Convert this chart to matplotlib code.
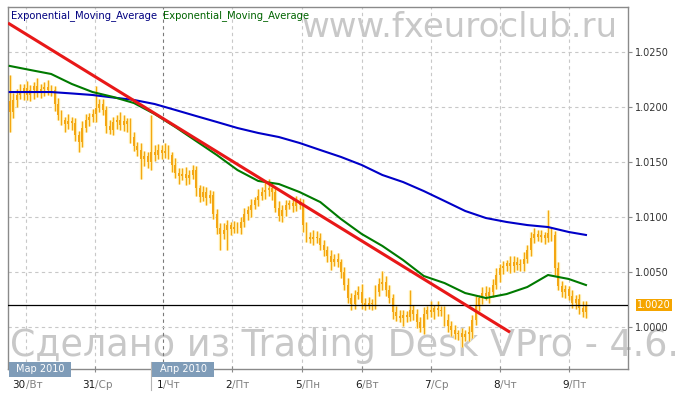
import matplotlib
matplotlib.use("Agg")
import matplotlib.pyplot as plt
import matplotlib.transforms as mtransforms
from matplotlib.patches import Rectangle
import numpy as np

# hourly closes (the first bar opens at first_open, every other bar opens at previous close)
first_open = 1.0205
closes = [
    1.0195, 1.0206, 1.0211, 1.0213, 1.0217, 1.0211, 1.0215, 1.0219, 1.0213, 1.0216,
    1.0218, 1.0215, 1.0215, 1.0202, 1.0192, 1.0188, 1.0184, 1.0187, 1.0185, 1.0174,
    1.0168, 1.0181, 1.0188, 1.0191, 1.0193, 1.0199, 1.0202, 1.0197, 1.0182, 1.0179,
    1.0186, 1.0188, 1.0183, 1.0187, 1.0184, 1.0172, 1.0164, 1.0161, 1.0152, 1.0155,
    1.0150, 1.0159, 1.0156, 1.0161, 1.0158, 1.0160, 1.0156, 1.0147, 1.0140, 1.0137,
    1.0139, 1.0135, 1.0138, 1.0142, 1.0126, 1.0118, 1.0122, 1.0117, 1.0120, 1.0102,
    1.0090, 1.0084, 1.0088, 1.0092, 1.0089, 1.0091, 1.0090, 1.0095, 1.0102, 1.0106,
    1.0111, 1.0115, 1.0119, 1.0122, 1.0124, 1.0126, 1.0122, 1.0108, 1.0101, 1.0106,
    1.0111, 1.0112, 1.0110, 1.0113, 1.0111, 1.0092, 1.0082, 1.0080, 1.0082, 1.0081,
    1.0074, 1.0070, 1.0064, 1.0059, 1.0062, 1.0059, 1.0050, 1.0038, 1.0026, 1.0021,
    1.0029, 1.0032, 1.0022, 1.0020, 1.0022, 1.0021, 1.0032, 1.0039, 1.0041, 1.0033,
    1.0026, 1.0013, 1.0010, 1.0008, 1.0011, 1.0009, 1.0015, 1.0012, 1.0004, 0.9999,
    1.0012, 1.0015, 1.0013, 1.0017, 1.0015, 1.0014, 1.0006, 1.0001, 0.9997, 0.9993,
    0.9994, 0.9991, 0.9993, 0.9995, 1.0006, 1.0020, 1.0026, 1.0031, 1.0028, 1.0032,
    1.0038, 1.0047, 1.0053, 1.0055, 1.0058, 1.0055, 1.0059, 1.0056, 1.0057, 1.0062,
    1.0070, 1.0081, 1.0084, 1.0082, 1.0083, 1.0081, 1.0085, 1.0083, 1.0053, 1.0037,
    1.0032, 1.0034, 1.0028, 1.0022, 1.0025, 1.0017, 1.0013, 1.0019,
]
# wick lengths above / below the body, in pips
wick_hi = [
    24, 6, 5, 8, 4, 6, 5, 3, 7, 5,
    4, 6, 5, 4, 6, 5, 3, 6, 4, 5,
    4, 6, 5, 3, 5, 20, 5, 5, 4, 6,
    5, 4, 7, 5, 3, 6, 5, 4, 6, 5,
    4, 33, 6, 5, 4, 7, 5, 3, 6, 4,
    5, 6, 4, 5, 4, 3, 6, 5, 4, 3,
    5, 4, 6, 5, 3, 5, 4, 5, 6, 4,
    5, 3, 6, 5, 9, 8, 5, 4, 6, 5,
    4, 3, 5, 6, 4, 5, 3, 4, 6, 5,
    4, 5, 3, 6, 4, 5, 3, 4, 6, 5,
    4, 5, 7, 4, 5, 3, 6, 5, 10, 5,
    5, 4, 6, 5, 4, 3, 18, 5, 4, 5,
    6, 4, 8, 3, 6, 4, 5, 6, 4, 5,
    3, 5, 4, 6, 5, 8, 3, 5, 6, 4,
    5, 6, 4, 5, 3, 6, 5, 4, 5, 6,
    4, 5, 6, 4, 5, 3, 21, 5, 4, 6,
    5, 4, 3, 5, 4, 5, 6, 4,
]
wick_lo = [
    18, 5, 6, 4, 7, 5, 6, 8, 4, 5,
    6, 4, 5, 6, 4, 5, 7, 4, 6, 5,
    9, 5, 4, 6, 5, 7, 4, 5, 6, 4,
    5, 6, 4, 5, 7, 5, 4, 6, 18, 6,
    6, 8, 5, 4, 6, 5, 4, 6, 5, 7,
    4, 6, 5, 4, 7, 5, 4, 6, 5, 4,
    6, 14, 4, 18, 6, 4, 5, 6, 4, 5,
    6, 4, 5, 4, 6, 5, 7, 4, 5, 6,
    5, 4, 6, 5, 4, 6, 5, 4, 6, 5,
    4, 6, 5, 7, 4, 5, 6, 5, 4, 6,
    5, 4, 6, 5, 4, 6, 5, 4, 6, 5,
    4, 6, 5, 4, 7, 5, 4, 6, 5, 4,
    6, 5, 4, 6, 5, 4, 5, 6, 5, 4,
    5, 9, 4, 6, 5, 4, 6, 5, 4, 6,
    5, 4, 6, 5, 4, 6, 5, 4, 5, 6,
    4, 6, 5, 4, 5, 6, 4, 5, 6, 4,
    5, 6, 4, 5, 6, 5, 4, 5,
]

# moving averages, sampled every 6 bars
ma_bars = [0, 6, 12, 18, 24, 30, 36, 42, 48, 54, 60, 66, 72, 78, 84,
           90, 96, 102, 108, 114, 120, 126, 132, 138, 144, 150, 156, 162, 167]
ema_slow = [1.02133, 1.02133, 1.02133, 1.02120, 1.02106, 1.02083, 1.02061, 1.02024,
            1.01970, 1.01915, 1.01861, 1.01806, 1.01761, 1.01724, 1.01670, 1.01606,
            1.01543, 1.01470, 1.01379, 1.01315, 1.01233, 1.01143, 1.01052, 1.00988,
            1.00952, 1.00924, 1.00906, 1.00861, 1.00834]
ema_fast = [1.02370, 1.02333, 1.02297, 1.02206, 1.02133, 1.02088, 1.02033, 1.01933,
            1.01815, 1.01688, 1.01561, 1.01424, 1.01325, 1.01297, 1.01224, 1.01133,
            1.00979, 1.00843, 1.00734, 1.00606, 1.00461, 1.00397, 1.00306, 1.00261,
            1.00297, 1.00361, 1.00470, 1.00434, 1.00379]

trend_bars = [-0.5, 145]
trend_vals = [1.0276, 0.9995]
last_price = 1.0020

y_ticks = [1.0000, 1.0050, 1.0100, 1.0150, 1.0200, 1.0250]
day_ticks = [4.6, 24.7, 44.5, 64.5, 84.6, 102.0, 122.0, 142.0, 162.0]
day_nums = ["30", "31", "1", "2", "5", "6", "7", "8", "9"]
day_names = ["Вт", "Ср", "Чт", "Пт", "Пн", "Вт", "Ср", "Чт", "Пт"]
month_starts = [-0.5, 41.0]
month_names = ["Мар 2010", "Апр 2010"]

CANDLE = "#f4a612"
GRID = "#c8c8c8"
FRAME = "#8a8a8a"

fig = plt.figure(figsize=(6.81, 3.99), dpi=100)
fig.patch.set_facecolor("white")
ax = fig.add_axes([0.01175, 0.0744, 0.910, 0.9073])
ax.patch.set_alpha(0)

# watermarks sit behind the (transparent) axes
fig.text(0.907, 0.9085, "www.fxeuroclub.ru", ha="right", va="baseline",
         fontsize=24.5, color="#c8c8c8", zorder=-1)
fig.text(0.0147, 0.108, "Сделано из Trading Desk VPro - 4.6.", ha="left",
         va="baseline", fontsize=26.3, color="#c8c8c8", zorder=-1)

ax.set_xlim(-0.5, 179.1)
ax.set_ylim(0.99613, 1.02903)

# grid
ax.set_yticks(y_ticks)
ax.yaxis.grid(True, ls=(0, (3, 3)), color=GRID, lw=0.8)
for pos, num in zip(day_ticks, day_nums):
    ax.axvline(pos, ls=(0, (3, 3)), lw=0.8,
               color="#7a7a7a" if num == "1" else GRID, zorder=0.5)

# candles
closes = np.array(closes)
opens = np.concatenate([[first_open], closes[:-1]])
top = np.maximum(opens, closes)
bot = np.minimum(opens, closes)
highs = top + np.array(wick_hi) * 0.0001
lows = bot - np.array(wick_lo) * 0.0001
x = np.arange(len(closes))
ax.vlines(x, lows, highs, color="#fff0b4", lw=2.4, zorder=2)
ax.vlines(x, lows, highs, color=CANDLE, lw=0.85, zorder=3)
ax.bar(x, np.maximum(top - bot, 0.00004), bottom=bot, width=0.55,
       color=CANDLE, zorder=3)

# indicators
ax.plot(ma_bars, ema_slow, color="#0000c8", lw=1.5, zorder=4)
ax.plot(ma_bars, ema_fast, color="#007a00", lw=1.5, zorder=4)
ax.plot(trend_bars, trend_vals, color="#e81818", lw=2.2, zorder=5,
        solid_capstyle="butt")
ax.axhline(last_price, color="black", lw=0.9, zorder=4)

# frame and ticks
for sp in ax.spines.values():
    sp.set_color(FRAME)
    sp.set_linewidth(1.0)
ax.yaxis.tick_right()
ax.tick_params(axis="y", direction="out", length=3, width=0.8, color=FRAME,
               labelsize=7, labelcolor="#333333", pad=2)
ax.set_yticklabels([f"{v:.4f}" for v in y_ticks])
ax.set_xticks(day_ticks)
ax.set_xticklabels([])
ax.tick_params(axis="x", direction="inout", length=5, width=0.8, color=FRAME)

# last price tag
ytr = mtransforms.blended_transform_factory(ax.transAxes, ax.transData)
ax.text(1.0155, last_price, f"{last_price:.4f}", transform=ytr, ha="left",
        va="center", fontsize=7, color="white", clip_on=False,
        bbox=dict(boxstyle="square,pad=0.12", fc="#f5a500", ec="none"))

# day labels
xtr = mtransforms.blended_transform_factory(ax.transData, ax.transAxes)
for pos, num, name in zip(day_ticks, day_nums, day_names):
    ax.text(pos, -0.044, num, transform=xtr, ha="right", va="center",
            fontsize=7.5, color="#1a1a1a", clip_on=False)
    ax.text(pos, -0.044, "/" + name, transform=xtr, ha="left", va="center",
            fontsize=7.5, color="#808080", clip_on=False)

# month boxes
for start, name in zip(month_starts, month_names):
    if start > 0:
        ax.plot([start, start], [0.02, -0.058], transform=xtr, color="#b4b4b4",
                lw=0.8, clip_on=False, zorder=6)
    ax.add_patch(Rectangle((start + 0.3, -0.0213), 18, 0.0415, transform=xtr,
                           fc="#7f9cb8", ec="none", clip_on=False, zorder=7))
    ax.text(start + 9.3, 0.0, name, transform=xtr, ha="center", va="center",
            fontsize=7, color="white", clip_on=False, zorder=8)

# indicator captions
ax.text(0.005, 0.976, "Exponential_Moving_Average", transform=ax.transAxes,
        ha="left", va="center", fontsize=7.2, color="#000080", zorder=8)
ax.text(0.25, 0.976, "Exponential_Moving_Average", transform=ax.transAxes,
        ha="left", va="center", fontsize=7.2, color="#006400", zorder=8)

fig.savefig("out.png", dpi=100)
